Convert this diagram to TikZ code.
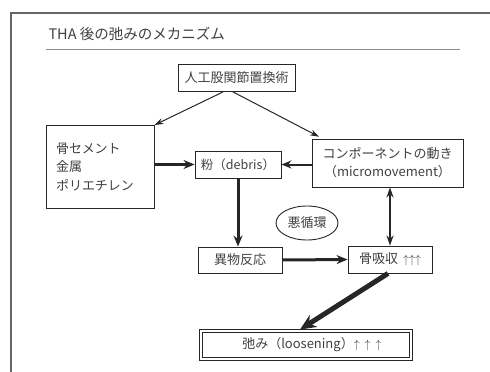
\documentclass[tikz,border=0pt]{standalone}
\usepackage{fontspec}
\setmainfont{Noto Sans CJK JP}
\usetikzlibrary{arrows.meta,calc,shapes.geometric}
\newcommand{\upar}{\ensuremath{\uparrow}}
\begin{document}
\begin{tikzpicture}[x=1pt,y=-1pt,
  txt/.style={text=black!75,font=\fontsize{13}{15}\selectfont},
  box/.style={txt,draw=black!85,line width=0.9pt,inner sep=0pt,align=center},
  thin/.style={draw=black!85,line width=1pt,-{Stealth[length=9pt,width=6pt]}},
  thick/.style={draw=black!85,line width=2.6pt,-{Stealth[length=11pt,width=9pt]}}]
\useasboundingbox (0,0) rectangle (490,372);
% frame
\draw[black!60,line width=1.2pt] (11,372) -- (11,13) -- (490,13);
\node[txt,font=\fontsize{14.5}{17}\selectfont,anchor=west] (title) at (45,34) {THA 後の弛みのメカニズム};
\draw[black!45,line width=0.6pt] (46,49) -- (460,49);
% nodes
\node[box,minimum width=117pt,minimum height=27pt] (top) at (236.5,78) {人工股関節置換術};
\node[box,minimum width=108pt,minimum height=83pt,align=left,text width=88pt,font=\fontsize{13}{18.5}\selectfont] (left) at (100,167) {骨セメント\\金属\\ポリエチレン};
\node[box,minimum width=86pt,minimum height=27pt,font=\fontsize{12.5}{15}\selectfont] (debris) at (238,164.5) {粉（debris）};
\node[box,minimum width=151pt,minimum height=48pt,font=\fontsize{13}{18}\selectfont] (comp) at (387.5,163) {コンポーネントの動き\\（micromovement）};
\node[ellipse,draw=black!85,line width=0.9pt,txt,minimum width=62pt,minimum height=34pt,inner sep=0pt] (loop) at (307,223) {悪循環};
\node[box,minimum width=84pt,minimum height=27pt] (kotsu) at (390,259.5) {骨吸収\hspace{5pt}\upar\upar\upar};
\node[box,minimum width=84pt,minimum height=26pt] (ibutsu) at (240,260) {異物反応};
\node[box,double,double distance=2pt,minimum width=210pt,minimum height=28pt] (loose) at (306,345) {\hspace*{12pt}弛み（loosening）\upar\hspace{5pt}\upar\hspace{5pt}\upar};
% connectors
\draw[thin] ($(top.south)+(-13.5,0)$) -- (left.north east);
\draw[thin,shorten >=4pt] ($(top.south)+(-3.5,0)$) -- ($(comp.north west)+(11,0)$);
\draw[thick] (left.east|-debris.east) -- (debris.west);
\draw[draw=black!85,line width=2pt,-{Stealth[length=10pt,width=8pt]}] (comp.west|-debris.east) -- (debris.east);
\draw[thick,line width=3pt] (debris.south) -- (ibutsu.north-|debris.south);
\draw[draw=black!85,line width=2pt,{Stealth[length=10pt,width=7pt]}-{Stealth[length=10pt,width=7pt]}] (comp.south-|kotsu.north) -- (kotsu.north);
\draw[thick,line width=3pt] (ibutsu.east) -- (kotsu.west);
\draw[draw=black!85,line width=5pt,-{Stealth[length=16pt,width=14pt]}] ($(kotsu.south)+(-2,0)$) -- ($(loose.north)+(-6,-1)$);
\end{tikzpicture}
\end{document}
